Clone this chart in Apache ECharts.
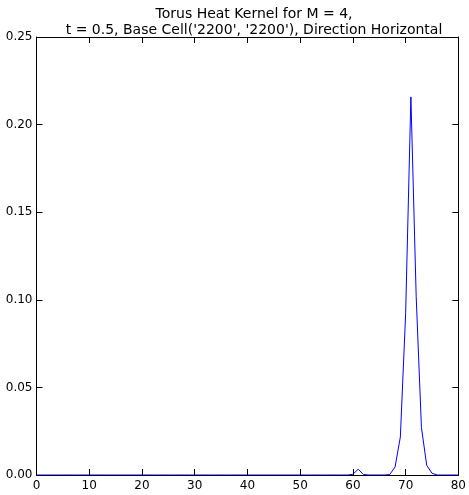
<!DOCTYPE html>
<html>
<head>
<meta charset="utf-8">
<script src="https://cdn.jsdelivr.net/npm/echarts@6/dist/echarts.min.js"></script>
<style>html,body{margin:0;padding:0;background:#fff;}#c{width:469px;height:495px;}</style>
</head>
<body>
<div id="c"></div>
<script>
var titleLines = ["Torus Heat Kernel for M = 4,", "t = 0.5, Base Cell('2200', '2200'), Direction Horizontal"];
var xValues = [];
for (var i = 0; i <= 80; i++) xValues.push(i);
// values (nonzero entries), all others 0
var peakX = [60, 61, 62, 67, 68, 69, 70, 71, 72, 73, 74, 75];
var peakY = [0.0004, 0.0033, 0.0003, 0.0003, 0.0046, 0.0217, 0.092, 0.2158, 0.102, 0.027, 0.0055, 0.0010];
var yTicks = [0, 0.05, 0.10, 0.15, 0.20, 0.25];

var series = xValues.map(function (x) {
  var k = peakX.indexOf(x);
  return [x, k >= 0 ? peakY[k] : 0];
});

var font = 'DejaVu Sans';
var chart = echarts.init(document.getElementById('c'), null, {renderer: 'canvas'});
var axisBase = {
  axisLine: {show: true, onZero: false, lineStyle: {color: '#000', width: 1}},
  axisTick: {show: true, inside: true, length: 6, lineStyle: {color: '#000', width: 1}},
  splitLine: {show: false}
};
chart.setOption({
  animation: false,
  backgroundColor: '#fff',
  title: {
    text: titleLines.join('\n'),
    left: 249,
    top: 1,
    textAlign: 'center',
    textStyle: {fontFamily: font, fontSize: 14, fontWeight: 'normal', color: '#000', lineHeight: 16}
  },
  grid: {left: 36.5, right: 8.5, top: 37, bottom: 20, show: false},
  xAxis: [
    Object.assign({
      type: 'value', min: 0, max: 80, interval: 10, position: 'bottom',
      axisLabel: {fontFamily: font, fontSize: 12, color: '#000', margin: 5}
    }, axisBase),
    Object.assign({
      type: 'value', min: 0, max: 80, interval: 10, position: 'top',
      axisLabel: {show: false}
    }, axisBase)
  ],
  yAxis: [
    Object.assign({
      type: 'value', min: 0, max: 0.25, interval: 0.05, position: 'left',
      axisLabel: {fontFamily: font, fontSize: 12, color: '#000', margin: 4,
        formatter: function (v) { return v.toFixed(2); }}
    }, axisBase),
    Object.assign({
      type: 'value', min: 0, max: 0.25, interval: 0.05, position: 'right',
      axisLabel: {show: false}
    }, axisBase)
  ],
  series: [{
    type: 'line',
    data: series,
    showSymbol: false,
    symbol: 'none',
    lineStyle: {color: '#0000ff', width: 1},
    z: 1
  }]
});
</script>
</body>
</html>
